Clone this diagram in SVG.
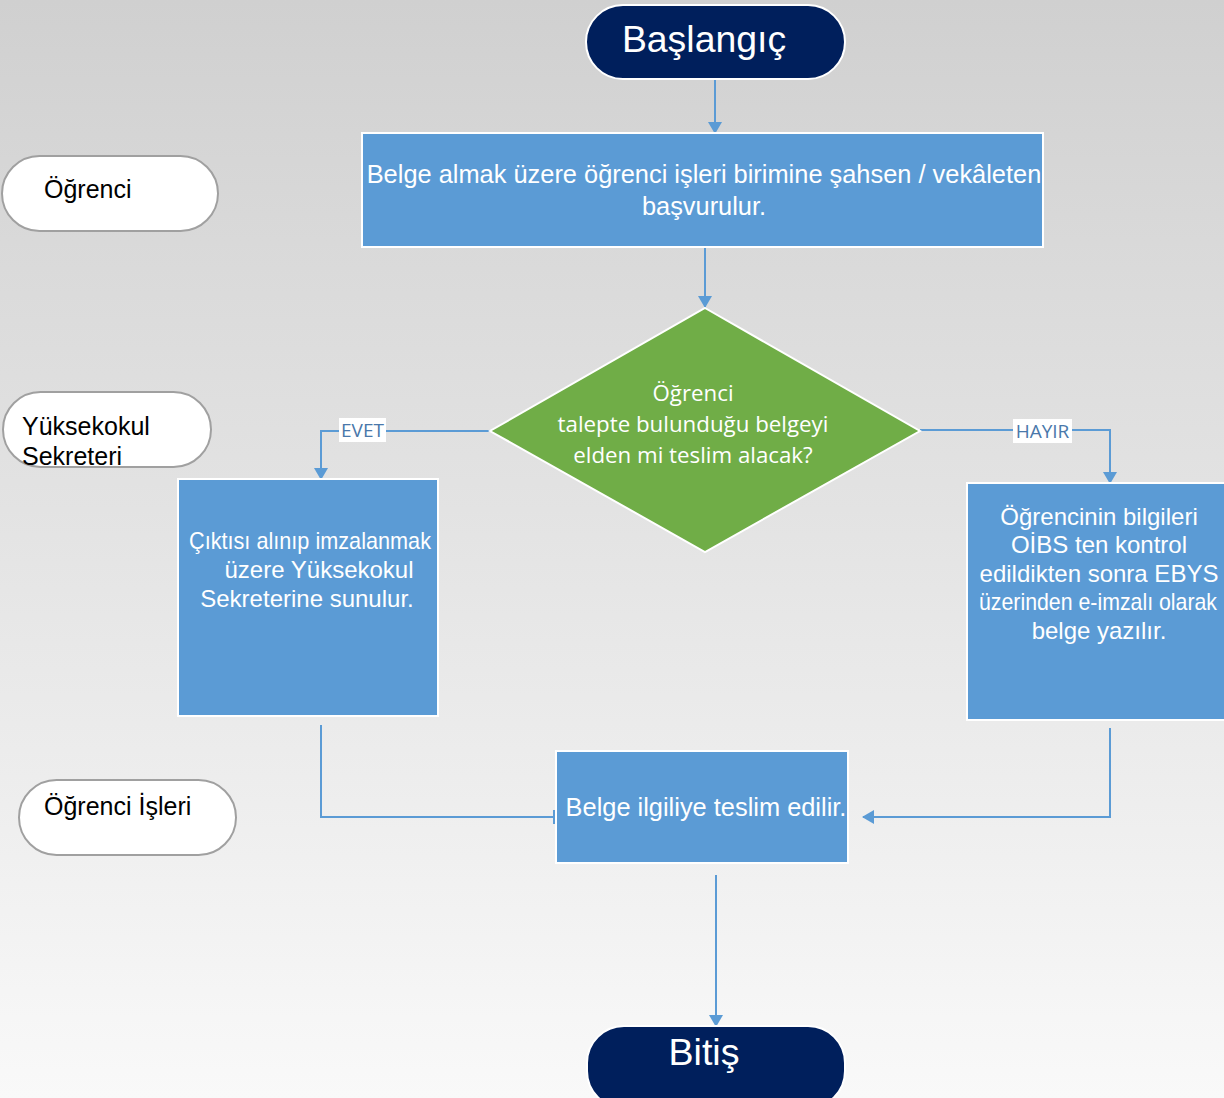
<svg xmlns="http://www.w3.org/2000/svg" width="1224" height="1098" viewBox="0 0 1224 1098">
<defs>
<linearGradient id="bg" x1="0" y1="0" x2="0" y2="1">
<stop offset="0" stop-color="#d0d0d0"/>
<stop offset="1" stop-color="#f9f9f9"/>
</linearGradient>
<marker id="arr" viewBox="0 0 12 14" refX="11" refY="7" markerWidth="12" markerHeight="14" markerUnits="userSpaceOnUse" orient="auto">
<path d="M0,0 L12,7 L0,14 Z" fill="#5b9bd5"/>
</marker>
<marker id="bar" viewBox="0 0 2 14" refX="1" refY="7" markerWidth="2" markerHeight="14" markerUnits="userSpaceOnUse" orient="auto">
<rect x="0" y="0" width="2" height="14" fill="#5b9bd5"/>
</marker>
</defs>
<style>
.term{fill:#001f5c;stroke:#ffffff;stroke-width:2}
.proc{fill:#5b9bd5;stroke:#ffffff;stroke-width:2}
.lane{fill:#ffffff;stroke:#a0a0a0;stroke-width:2}
.conn{fill:none;stroke:#5b9bd5;stroke-width:2}
.tw{font-family:"Liberation Sans",Arial,sans-serif;fill:#ffffff}
.tb{font-family:"Liberation Sans",Arial,sans-serif;fill:#000000;font-size:25px}
.td{font-family:"Open Sans","Noto Sans",sans-serif;fill:#ffffff;font-size:22.3px}
.lbl{font-family:"Open Sans","Noto Sans",sans-serif;fill:#4a78aa;font-size:19px}
</style>
<rect x="0" y="0" width="1224" height="1098" fill="url(#bg)"/>

<g id="connectors">
<path class="conn" d="M715,80 L715,133" marker-end="url(#arr)"/>
<path class="conn" d="M705,248 L705,307" marker-end="url(#arr)"/>
<path class="conn" d="M490,431 L321,431 L321,479" marker-end="url(#arr)"/>
<path class="conn" d="M920,430 L1110,430 L1110,483" marker-end="url(#arr)"/>
<path class="conn" d="M321,725 L321,817 L554,817" marker-end="url(#bar)"/>
<path class="conn" d="M1110,728 L1110,817 L863,817" marker-end="url(#arr)"/>
<path class="conn" d="M716,875 L716,1026" marker-end="url(#arr)"/>
<g id="label-evet">
<rect x="339" y="418" width="47" height="24" fill="#ffffff"/>
<text class="lbl" x="362.5" y="437" text-anchor="middle">EVET</text>
</g>
<g id="label-hayir">
<rect x="1013" y="419" width="59" height="24" fill="#ffffff"/>
<text class="lbl" x="1042.5" y="438" text-anchor="middle">HAYIR</text>
</g>
</g>

<g id="lane-ogrenci">
<rect class="lane" x="2" y="156" width="216" height="75" rx="37.5"/>
<text class="tb" x="44" y="198">Öğrenci</text>
</g>
<g id="lane-yuksekokul">
<rect class="lane" x="3" y="392" width="208" height="75" rx="37.5"/>
<text class="tb" x="22" y="435">Yüksekokul</text>
<text class="tb" x="22" y="465">Sekreteri</text>
</g>
<g id="lane-ogrenci-isleri">
<rect class="lane" x="19" y="780" width="217" height="75" rx="37.5"/>
<text class="tb" x="44" y="815">Öğrenci İşleri</text>
</g>

<g id="start">
<rect class="term" x="586" y="5" width="259" height="74" rx="37"/>
<text class="tw" x="704" y="52" font-size="37.4" text-anchor="middle">Başlangıç</text>
</g>

<g id="apply">
<rect class="proc" x="362" y="133" width="681" height="114"/>
<text class="tw" x="704" y="183" font-size="25.4" text-anchor="middle">Belge almak üzere öğrenci işleri birimine şahsen / vekâleten</text>
<text class="tw" x="704" y="215" font-size="25.4" text-anchor="middle">başvurulur.</text>
</g>

<g id="decision">
<polygon points="705,308 920,431 705,552 490,431" fill="#70ad47" stroke="#ffffff" stroke-width="2"/>
<text class="td" x="693" y="401" text-anchor="middle">Öğrenci</text>
<text class="td" x="693" y="432" text-anchor="middle">talepte bulunduğu belgeyi</text>
<text class="td" x="693" y="463" text-anchor="middle">elden mi teslim alacak?</text>
</g>

<g id="yes-box">
<rect class="proc" x="178" y="479" width="260" height="237"/>
<text class="tw" x="310" y="549" font-size="24" text-anchor="middle" textLength="242" lengthAdjust="spacingAndGlyphs">Çıktısı alınıp imzalanmak</text>
<text class="tw" x="319" y="578" font-size="24" text-anchor="middle">üzere Yüksekokul</text>
<text class="tw" x="307" y="607" font-size="24" text-anchor="middle">Sekreterine sunulur.</text>
</g>

<g id="no-box">
<rect class="proc" x="967" y="483" width="262" height="237"/>
<text class="tw" x="1099" y="525" font-size="24" text-anchor="middle">Öğrencinin bilgileri</text>
<text class="tw" x="1099" y="553" font-size="24" text-anchor="middle">OİBS ten kontrol</text>
<text class="tw" x="1099" y="582" font-size="24" text-anchor="middle">edildikten sonra EBYS</text>
<text class="tw" x="1098" y="610" font-size="24" text-anchor="middle" textLength="238" lengthAdjust="spacingAndGlyphs">üzerinden e-imzalı olarak</text>
<text class="tw" x="1099" y="639" font-size="24" text-anchor="middle">belge yazılır.</text>
</g>

<g id="deliver">
<rect class="proc" x="556" y="751" width="292" height="112"/>
<text class="tw" x="706" y="816" font-size="25.4" text-anchor="middle">Belge ilgiliye teslim edilir.</text>
</g>

<g id="end">
<rect class="term" x="587" y="1026" width="258" height="82" rx="37"/>
<text class="tw" x="704" y="1065" font-size="37.6" text-anchor="middle">Bitiş</text>
</g>
</svg>
